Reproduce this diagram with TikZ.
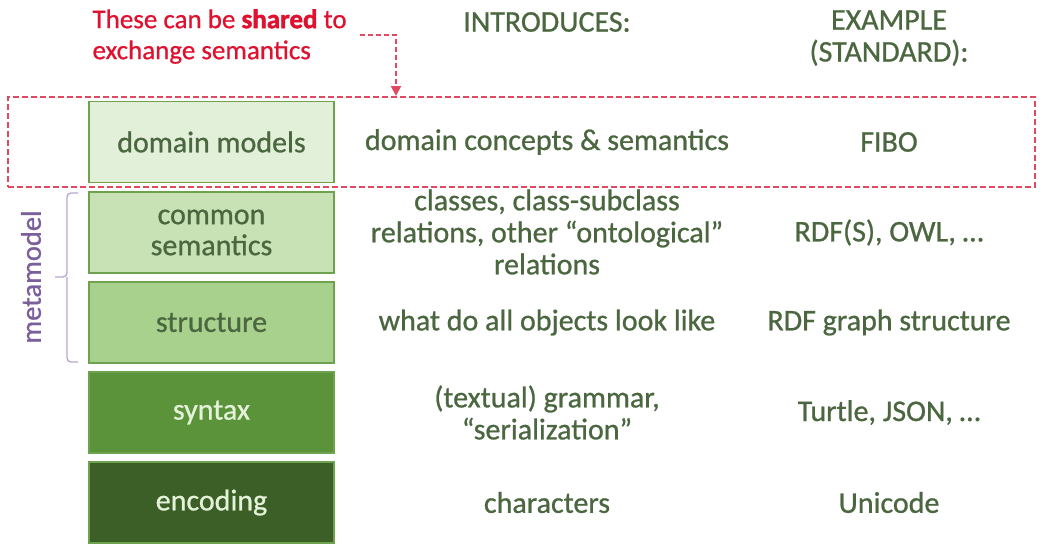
\documentclass[tikz,border=0pt]{standalone}
\usepackage{fontspec}
\setmainfont{Carlito}[FakeBold=0.8, BoldFeatures={FakeBold=1.6}]
\newfontfamily\notefont{Carlito}[FakeBold=0.6, BoldFeatures={FakeBold=1.6}]
\usetikzlibrary{arrows.meta}
\definecolor{txtgreen}{HTML}{4B6740}
\definecolor{edgegreen}{HTML}{6FA24E}
\definecolor{fillA}{HTML}{E2F0D9}
\definecolor{fillB}{HTML}{C8E2B6}
\definecolor{fillC}{HTML}{A9D18E}
\definecolor{fillD}{HTML}{5A933A}
\definecolor{fillE}{HTML}{3B5F26}
\definecolor{lighttxt}{HTML}{E4F2DA}
\definecolor{alertred}{HTML}{E0102F}
\definecolor{dashred}{HTML}{E04A60}
\definecolor{purpletxt}{HTML}{7B5E9C}
\definecolor{bracecol}{HTML}{B7A6CC}
\tikzset{
  layer/.style={draw=edgegreen, line width=1.4pt, minimum width=245pt, minimum height=81pt,
    inner sep=0pt, font=\fontsize{30}{31}\selectfont, text=txtgreen, align=center},
  coltext/.style={font=\fontsize{30}{32}\selectfont, text=txtgreen, align=center},
  redline/.style={dashred, line width=2pt, dash pattern=on 6pt off 3pt},
}
\begin{document}
\begin{tikzpicture}[x=1pt,y=-1pt]
\useasboundingbox (0,0) rectangle (1042,552);
\fill[white] (0,0) rectangle (1042,552);

% column headers
\node[coltext] (hintro) at (547,22) {INTRODUCES:};
\node[coltext] (hex) at (889,38) {EXAMPLE\\(STANDARD):};

% layer boxes
\node[layer, fill=fillA] (dm)  at (211.5,142) {domain models};
\node[layer, fill=fillB] (cs)  at (211.5,232.5) {common\\semantics};
\node[layer, fill=fillC] (st)  at (211.5,322.5) {structure};
\node[layer, fill=fillD, text=lighttxt] (sy) at (211.5,412.5) {syntax};
\node[layer, fill=fillE, text=lighttxt] (en) at (211.5,502.5) {encoding};

% what each layer introduces
\node[coltext] (i1) at (547,142) {domain concepts \& semantics};
\node[coltext] (i2) at (547,232) {classes, class-subclass\\relations, other “ontological”\\relations};
\node[coltext] (i3) at (547,322.5) {what do all objects look like};
\node[coltext] (i4) at (547,412.5) {(textual) grammar,\\“serialization”};
\node[coltext] (i5) at (547,502.5) {characters};

% example standards
\node[coltext] (e1) at (889,142) {FIBO};
\node[coltext] (e2) at (889,232.5) {RDF(S), OWL, …};
\node[coltext] (e3) at (889,322.5) {RDF graph structure};
\node[coltext] (e4) at (889,412.5) {Turtle, JSON, …};
\node[coltext] (e5) at (889,502.5) {Unicode};

% shared-layer highlight
\node[draw, redline, minimum width=1027pt, minimum height=90pt, inner sep=0pt]
  (shared) at (521.5,142) {};
\node[font=\notefont\fontsize{27}{31}\selectfont, text=alertred, align=left, anchor=west]
  (note) at (89,36.5) {These can be \textbf{shared} to\\exchange semantics};
\coordinate (notetail) at (360,35);
\draw[redline, dash pattern=on 5pt off 3pt, -{Triangle[length=10pt,width=10pt]}]
  (notetail) -| (shared.north -| 396,0);

% metamodel brace
\draw[bracecol, line width=1.3pt, rounded corners=4pt]
  (78,193) -- (67,193) -- (67,277) -- (55,277);
\draw[bracecol, line width=1.3pt, rounded corners=4pt]
  (78,362) -- (67,362) -- (67,277);
\node[rotate=90, font=\fontsize{28.5}{30}\selectfont, text=purpletxt] (meta) at (31,277) {metamodel};
\end{tikzpicture}
\end{document}
